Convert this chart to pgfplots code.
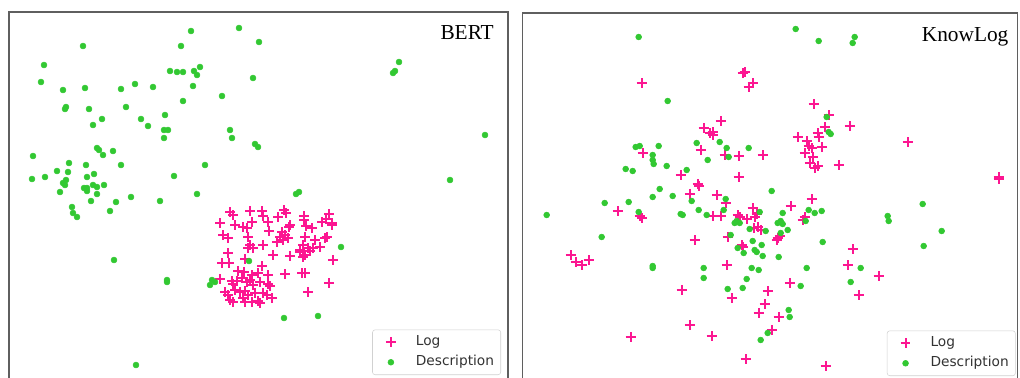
\documentclass[border=0pt]{standalone}
\usepackage{pgfplots}
\pgfplotsset{compat=1.18}
\usepackage{fontspec}
\setmainfont{Liberation Serif}
\newfontfamily\legfont{DejaVu Sans}
\definecolor{lpink}{RGB}{252,22,145}
\definecolor{lgreen}{RGB}{50,200,50}
\definecolor{framec}{RGB}{95,95,95}
\pgfplotsset{
  panel/.style={
    x=0.75pt, y=0.75pt, y dir=reverse,
    ticks=none, axis line style={framec, line width=1.1pt},
    clip=true, anchor=north west, scale only axis,
    legend cell align=left,
    legend image code/.code={\draw[##1, only marks] plot coordinates {(11pt,0pt)}; \node[inner sep=0pt, minimum size=0pt, draw=none] at (27pt,0pt) {}; \node[inner sep=0pt, minimum size=0pt, draw=none] at (0pt,0pt) {};},
    legend style={draw=black!18, rounded corners=2pt, fill=white, inner xsep=3pt, inner ysep=3pt,
      font=\legfont\fontsize{10.3}{12}\selectfont, text=black!80, row sep=2.3pt,
      nodes={text height=7.5pt, text depth=2.2pt, inner ysep=1.5pt}},
  },
  logst/.style={only marks, mark=+, mark size=3.7pt, line width=1.45pt, color=lpink},
  descst/.style={only marks, mark=*, mark size=2.2pt, color=lgreen, mark options={draw=lgreen, fill=lgreen}},
}
\begin{document}
\begin{tikzpicture}
\path[use as bounding box, clip] (0pt,0pt) rectangle (765pt,-283.5pt);
\begin{axis}[panel, at={(6.75pt,-9pt)}, xmin=9, xmax=508, ymin=12, ymax=382,
  legend style={at={(axis cs:501,375)}, anchor=south east}]
\addplot[logst] table {
230 212
233 215
250 211
262 211
263 216
278 217
284 210
286 213
304 216
326 219
329 214
220 223
235 225
243 227
247 228
252 222
268 222
290 225
306 226
312 228
322 222
332 225
223 235
228 238
248 237
269 231
282 232
280 237
285 235
288 238
305 237
315 240
327 237
250 245
253 248
248 248
263 245
277 242
303 245
308 248
313 248
320 247
228 253
273 255
290 256
300 252
303 257
305 255
222 263
229 263
245 259
333 260
262 266
238 271
244 272
252 275
258 273
268 275
285 274
302 273
305 273
232 281
237 281
242 278
247 282
250 280
253 285
260 282
268 284
329 283
225 292
228 295
235 290
240 292
245 291
248 295
255 293
263 293
230 300
233 302
243 298
245 302
252 302
258 301
272 298
308 292
220 279
233 284
260 303
267 295
270 286
310 251
289 227
283 240
325 238
332 223
304 220
300 250
};
\addlegendentry{Log}
\addplot[descst] table {
191 31
239 28
259 42
83 46
181 46
44 65
41 82
170 71
177 72
183 72
194 71
197 75
200 67
253 78
63 90
85 88
121 89
135 84
153 87
193 86
222 96
183 101
66 107
65 109
89 109
126 107
102 119
93 125
141 119
148 126
165 115
164 130
168 130
164 138
230 130
232 138
255 144
258 147
97 148
99 150
113 151
103 155
33 156
69 163
86 165
121 165
205 165
57 171
68 172
32 179
45 177
174 176
87 177
94 174
66 180
63 183
65 185
84 188
87 188
93 185
97 187
104 185
60 192
87 191
97 194
131 197
91 201
116 202
160 201
197 194
72 207
73 213
77 217
110 211
114 260
167 280
167 282
212 280
210 285
215 282
249 261
136 365
399 62
393 73
395 71
485 135
450 180
296 194
299 192
341 247
284 318
318 316
};
\addlegendentry{Description}
\node[anchor=north east, inner sep=0pt, font=\fontsize{16}{18}\selectfont] at (axis cs:494,25.5) {BERT};
\end{axis}
\begin{axis}[panel, at={(392pt,-9.75pt)}, xmin=523, xmax=1018, ymin=13, ymax=382,
  legend style={at={(axis cs:1016,376)}, anchor=south east}]
\addplot[logst] table {
642 83
745 72
743 73
749 87
753 83
721 121
704 128
710 133
713 135
713 132
643 153
701 150
725 155
739 156
763 155
681 175
739 177
698 184
699 186
814 104
829 115
825 127
850 126
798 137
807 141
809 146
818 133
819 137
822 147
812 148
805 153
813 157
810 163
815 168
818 166
839 165
908 142
999 177
999 179
690 194
717 195
726 203
753 208
791 206
812 199
618 211
640 216
642 218
713 216
721 216
738 215
740 217
747 219
755 217
757 214
805 217
803 220
754 228
758 227
761 230
695 240
728 237
742 245
743 247
778 238
780 236
777 240
571 255
576 262
582 265
589 260
727 265
853 249
848 265
879 276
859 295
790 283
682 290
732 298
768 291
765 304
759 313
779 317
690 325
712 336
631 337
772 330
746 359
826 366
};
\addlegendentry{Log}
\addplot[descst] table {
639 37
668 101
796 29
819 41
855 37
853 43
636 147
640 146
659 146
653 155
653 160
654 164
697 143
720 142
727 148
729 157
749 148
708 160
626 169
633 171
667 166
687 170
660 189
827 117
829 132
831 134
547 215
605 203
629 202
653 197
673 196
692 201
726 199
772 191
639 212
681 214
683 215
699 210
707 215
724 210
760 212
783 213
809 210
815 213
822 211
602 237
735 223
737 221
740 223
750 229
766 231
778 223
781 221
783 224
788 230
806 221
781 233
731 235
823 242
753 241
738 248
762 245
755 250
757 252
744 253
763 256
779 257
653 266
653 268
704 268
752 268
759 270
807 268
704 278
747 279
728 289
743 288
801 286
861 268
851 282
888 216
889 221
923 204
942 231
924 246
789 310
790 317
768 333
761 340
};
\addlegendentry{Description}
\node[anchor=north east, inner sep=0pt, font=\fontsize{16}{18}\selectfont] at (axis cs:1009,27) {KnowLog};
\end{axis}
\end{tikzpicture}
\end{document}
